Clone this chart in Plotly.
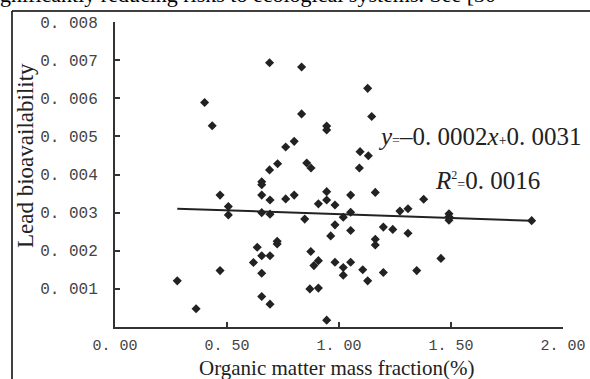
import plotly.graph_objects as go

# Organic matter mass fraction (%) and lead bioavailability
om_fraction = [
    0.69, 0.40, 0.434, 0.80, 0.762, 0.726, 0.69, 0.655, 0.655, 0.833, 0.833,
    1.128, 1.146, 0.945, 0.945, 1.094, 1.131, 0.856, 0.875, 1.091,
    0.469, 0.655, 0.692, 0.762, 0.80, 0.506, 0.506, 0.655, 0.692, 0.724, 0.724,
    0.635, 0.655, 0.692, 0.618, 0.655, 0.469, 0.278, 0.655, 0.692, 0.362,
    0.945, 0.945, 0.908, 0.982, 1.052, 1.162, 1.378, 0.847, 1.019, 1.052,
    1.272, 1.308, 0.982, 0.963, 1.052, 1.198, 1.24, 1.308, 1.162, 1.162,
    0.874, 0.908, 0.888, 0.982, 1.019, 1.052, 1.019, 1.106, 1.128, 1.198,
    1.347, 0.87, 0.908, 0.945, 1.491, 1.491, 1.491, 1.86, 1.455,
]
lead_bio = [
    0.00693, 0.00589, 0.00528, 0.00487, 0.00472, 0.00428, 0.00412, 0.00381, 0.00373, 0.00682, 0.00559,
    0.00626, 0.00552, 0.00527, 0.00517, 0.00460, 0.00449, 0.00430, 0.00417, 0.00417,
    0.00346, 0.00346, 0.00333, 0.00336, 0.00346, 0.00316, 0.00294, 0.00300, 0.00296, 0.00225, 0.00218,
    0.00209, 0.00187, 0.00187, 0.00169, 0.00141, 0.00148, 0.00121, 0.00080, 0.00060, 0.00048,
    0.00355, 0.00333, 0.00323, 0.00320, 0.00346, 0.00353, 0.00335, 0.00283, 0.00288, 0.00301,
    0.00304, 0.00310, 0.00268, 0.00239, 0.00253, 0.00262, 0.00256, 0.00246, 0.00230, 0.00215,
    0.00198, 0.00174, 0.00161, 0.00170, 0.00156, 0.00170, 0.00136, 0.00150, 0.00121, 0.00143,
    0.00148, 0.00100, 0.00102, 0.00018, 0.00297, 0.00289, 0.00280, 0.00279, 0.00180,
]

# Trend line as drawn in the picture
trend_slope = -0.0002
trend_intercept = 0.00316

x_tick_vals = [0.0, 0.5, 1.0, 1.5, 2.0]
x_tick_text = ["0. 00", "0. 50", "1. 00", "1. 50", "2. 00"]
y_tick_vals = [0.001, 0.002, 0.003, 0.004, 0.005, 0.006, 0.007, 0.008]
y_tick_text = ["0. 001", "0. 002", "0. 003", "0. 004", "0. 005", "0. 006", "0. 007", "0. 008"]

x_min, x_max = min(om_fraction), max(om_fraction)
line_x = [x_min, x_max]
line_y = [trend_slope * v + trend_intercept for v in line_x]

fig = go.Figure()
fig.add_trace(go.Scatter(
    x=om_fraction, y=lead_bio, mode="markers",
    marker=dict(symbol="diamond", size=7, color="#222222"),
    showlegend=False, hoverinfo="skip",
))
fig.add_trace(go.Scatter(
    x=line_x, y=line_y, mode="lines",
    line=dict(color="#222222", width=2),
    showlegend=False, hoverinfo="skip",
))

W, H = 590, 379
L, R, T, B = 115, 27, 22, 52
pw, ph = W - L - R, H - T - B


def px(xp):
    return (xp - L) / pw


def py(yp):
    return (H - B - yp) / ph


serif = "Liberation Serif"
mono = "Liberation Mono"

fig.update_layout(
    width=W, height=H,
    margin=dict(l=L, r=R, t=T, b=B, autoexpand=False),
    paper_bgcolor="white", plot_bgcolor="white",
    xaxis=dict(
        range=[0, 2], tickvals=x_tick_vals, ticktext=x_tick_text,
        ticks="inside", ticklen=5, tickwidth=1.5, tickcolor="#333",
        showline=True, linecolor="#333", linewidth=2, showgrid=False, zeroline=False,
        tickfont=dict(family=mono, size=15, color="#444"),
        ticklabelstandoff=3, automargin=False,
    ),
    yaxis=dict(
        range=[0, 0.008], tickvals=y_tick_vals, ticktext=y_tick_text,
        ticks="inside", ticklen=5, tickwidth=1.5, tickcolor="#333",
        showline=True, linecolor="#333", linewidth=2, showgrid=False, zeroline=False,
        tickfont=dict(family=mono, size=16, color="#444"),
        ticklabelstandoff=12, automargin=False,
    ),
    shapes=[
        dict(type="line", xref="paper", yref="paper", x0=px(12), x1=px(12), y0=py(11), y1=py(H + 5),
             line=dict(color="black", width=1.5)),
        dict(type="line", xref="paper", yref="paper", x0=px(12), x1=px(W + 5), y0=py(11), y1=py(11),
             line=dict(color="black", width=1.5)),
    ],
    annotations=[
        dict(text="gnificantly reducing risks to ecological systems. See [30",
             xref="paper", yref="paper", x=px(-2), y=py(9), xanchor="left", yanchor="bottom",
             showarrow=False, font=dict(family=serif, size=22, color="black")),
        dict(text="Lead bioavailability", textangle=-90,
             xref="paper", yref="paper", x=px(25), y=py(156), xanchor="center", yanchor="middle",
             showarrow=False, font=dict(family=serif, size=23, color="#222")),
        dict(text="Organic matter mass fraction(%)",
             xref="paper", yref="paper", x=px(336), y=py(368), xanchor="center", yanchor="middle",
             showarrow=False, font=dict(family=serif, size=21, color="#222")),
        dict(text="<i>y</i><span style=\"font-size:14px\">=</span>\u20130. 0002<i>x</i><span style=\"font-size:14px\">+</span>0. 0031",
             xref="paper", yref="paper", x=px(376), y=py(136), xanchor="left", yanchor="middle",
             showarrow=False, font=dict(family=serif, size=25, color="#222")),
        dict(text="<i>R</i><sup><span style=\"font-size:12px\">2</span></sup><span style=\"font-size:14px\">=</span>0. 0016",
             xref="paper", yref="paper", x=px(433), y=py(180), xanchor="left", yanchor="middle",
             showarrow=False, font=dict(family=serif, size=25, color="#222")),
    ],
)

fig.write_html(
    "out.html",
    config={"displayModeBar": False},
    post_script="document.body.style.margin='0';document.body.style.overflow='hidden';",
)
